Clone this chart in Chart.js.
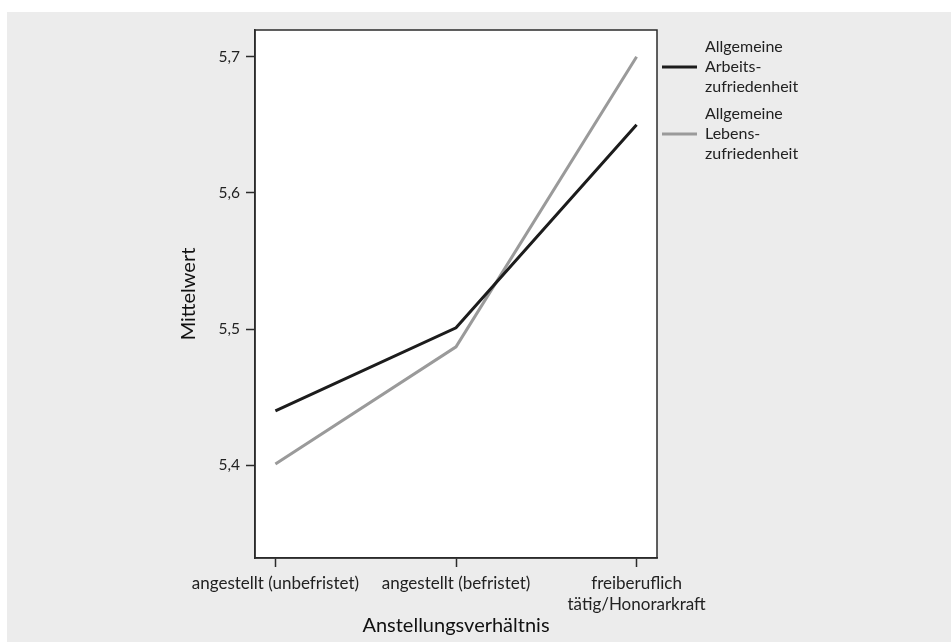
<!DOCTYPE html>
<html lang="de">
<head>
    <meta charset="UTF-8">
    <title>Mittelwert nach Anstellungsverhältnis</title>
    <script src="https://cdn.jsdelivr.net/npm/chart.js"></script>
    <style>
        body {
            margin: 0;
            padding: 0;
            background-color: white;
            font-family: Lato, sans-serif;
        }
        .chart-container {
            position: absolute;
            left: 7px;
            top: 12px;
            width: 944px;
            height: 630px;
            background-color: #ececec;
        }
    </style>
</head>
<body>
    <div class="chart-container">
        <canvas id="lineChart"></canvas>
    </div>

    <script>
        // categories (multi-line where the label wraps)
        const categories = [
            "angestellt (unbefristet)",
            "angestellt (befristet)",
            ["freiberuflich", "tätig/Honorarkraft"]
        ];
        const arbeitsZufriedenheit = [5.440, 5.501, 5.650];
        const lebensZufriedenheit = [5.401, 5.487, 5.700];
        const seriesLabels = [
            ["Allgemeine", "Arbeits-", "zufriedenheit"],
            ["Allgemeine", "Lebens-", "zufriedenheit"]
        ];
        const yTicks = [5.4, 5.5, 5.6, 5.7];

        const fontFamily = "Lato, sans-serif";
        const axisColor = "#2b2b2b";

        const toPoints = (values) => values.map((v, i) => ({ x: i, y: v }));

        // white plot area with a frame around it
        const plotFrame = {
            id: "plotFrame",
            beforeDraw(chart) {
                const { ctx, chartArea: a } = chart;
                ctx.save();
                ctx.fillStyle = "white";
                ctx.fillRect(a.left, a.top, a.right - a.left, a.bottom - a.top);
                ctx.restore();
            },
            afterDraw(chart) {
                const { ctx, chartArea: a } = chart;
                ctx.save();
                ctx.strokeStyle = axisColor;
                ctx.lineWidth = 1.5;
                ctx.strokeRect(a.left, a.top, a.right - a.left, a.bottom - a.top);
                ctx.restore();
            }
        };

        // legend on the right, with wrapped labels
        const sideLegend = {
            id: "sideLegend",
            afterDraw(chart) {
                const { ctx, chartArea: a } = chart;
                ctx.save();
                ctx.font = "16px " + fontFamily;
                ctx.textBaseline = "middle";
                ctx.textAlign = "left";
                chart.data.datasets.forEach((ds, i) => {
                    const y = 55 + i * 67;
                    ctx.strokeStyle = ds.borderColor;
                    ctx.lineWidth = 3;
                    ctx.beginPath();
                    ctx.moveTo(a.right + 5, y);
                    ctx.lineTo(a.right + 40, y);
                    ctx.stroke();
                    ctx.fillStyle = "#222";
                    ds.label.forEach((line, j) => {
                        ctx.fillText(line, a.right + 48, y + (j - 1) * 20);
                    });
                });
                ctx.restore();
            }
        };

        const chart = new Chart(document.getElementById("lineChart"), {
            type: "line",
            data: {
                datasets: [
                    {
                        label: seriesLabels[0],
                        data: toPoints(arbeitsZufriedenheit),
                        borderColor: "#1c1c1c",
                        borderWidth: 3,
                        pointRadius: 0,
                        tension: 0,
                        fill: false
                    },
                    {
                        label: seriesLabels[1],
                        data: toPoints(lebensZufriedenheit),
                        borderColor: "#9a9a9a",
                        borderWidth: 3,
                        pointRadius: 0,
                        tension: 0,
                        fill: false
                    }
                ]
            },
            options: {
                responsive: true,
                maintainAspectRatio: false,
                animation: false,
                layout: {
                    padding: { top: 18, right: 294, left: 0, bottom: 0 }
                },
                plugins: {
                    legend: { display: false },
                    tooltip: { enabled: false }
                },
                scales: {
                    x: {
                        type: "linear",
                        min: -0.113,
                        max: 2.113,
                        afterFit(scale) { scale.height = 84; },
                        afterBuildTicks(scale) {
                            scale.ticks = categories.map((c, i) => ({ value: i }));
                        },
                        ticks: {
                            color: "#222",
                            font: { family: fontFamily, size: 17, lineHeight: 1.25 },
                            padding: 6,
                            maxRotation: 0,
                            autoSkip: false,
                            callback: (v) => categories[v]
                        },
                        grid: {
                            drawOnChartArea: false,
                            drawTicks: true,
                            tickLength: 9,
                            tickColor: axisColor,
                            tickWidth: 1.5
                        },
                        border: { color: axisColor, width: 1.5 },
                        title: {
                            display: true,
                            text: "Anstellungsverhältnis",
                            color: "#111",
                            font: { family: fontFamily, size: 20 },
                            padding: { top: 0, bottom: 4 }
                        }
                    },
                    y: {
                        min: 5.332,
                        max: 5.7196,
                        afterFit(scale) { scale.width = 248; },
                        afterBuildTicks(scale) {
                            scale.ticks = yTicks.map(v => ({ value: v }));
                        },
                        ticks: {
                            color: "#222",
                            font: { family: fontFamily, size: 15.5 },
                            padding: 6,
                            callback: (v) => v.toFixed(1).replace(".", ",")
                        },
                        grid: {
                            drawOnChartArea: false,
                            drawTicks: true,
                            tickLength: 9,
                            tickColor: axisColor,
                            tickWidth: 1.5
                        },
                        border: { color: axisColor, width: 1.5 },
                        title: {
                            display: true,
                            text: "Mittelwert",
                            color: "#111",
                            font: { family: fontFamily, size: 20 },
                            padding: { top: 170, bottom: 0 }
                        }
                    }
                }
            },
            plugins: [plotFrame, sideLegend]
        });
    </script>
</body>
</html>
